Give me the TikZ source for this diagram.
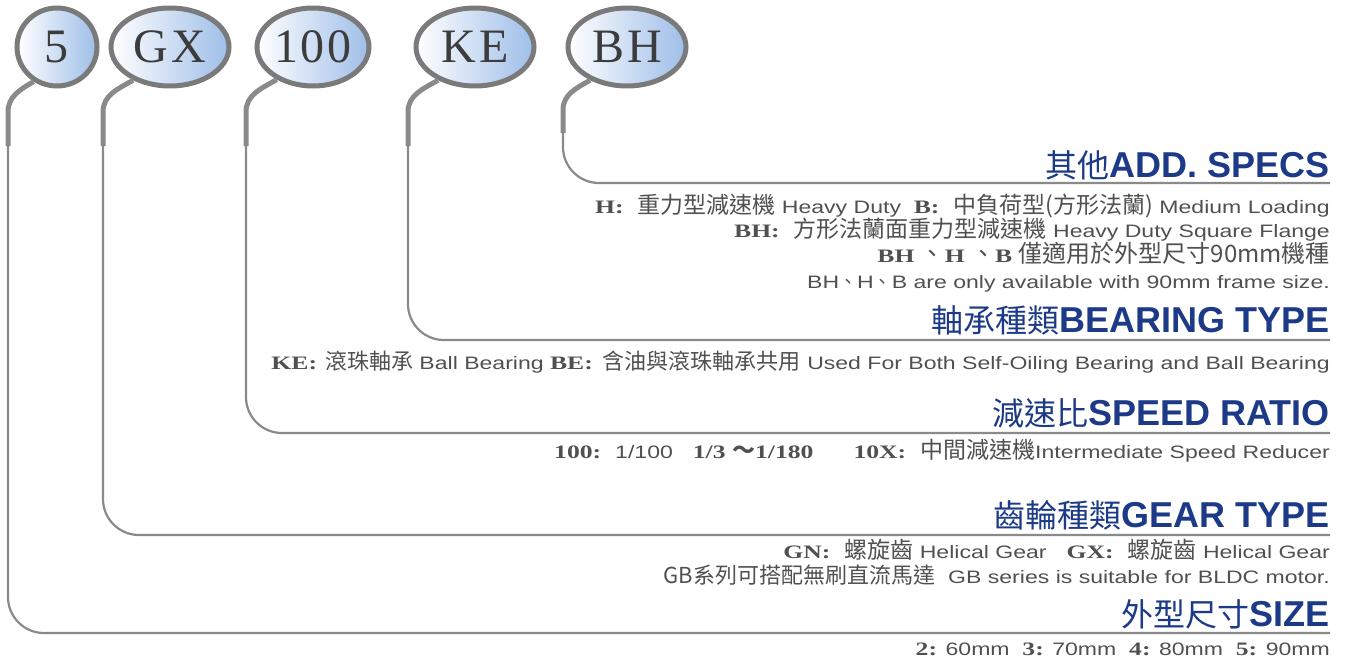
\documentclass[tikz,border=0pt]{standalone}
\usepackage{fontspec}
\setmainfont{Liberation Serif}
\newfontfamily\cjk{Noto Sans CJK TC}
\newfontfamily\nsans[FakeStretch=1.28]{Liberation Sans}
\newfontfamily\wserif[FakeStretch=1.35]{Liberation Serif}
\newfontfamily\tsans{Liberation Sans}
\newfontfamily\bubfont[LetterSpace=6]{Liberation Serif}
\usetikzlibrary{shapes.geometric}
\definecolor{linegray}{RGB}{138,138,138}
\definecolor{bordergray}{RGB}{122,122,122}
\definecolor{bblue}{RGB}{158,190,232}
\definecolor{titleblue}{RGB}{28,58,135}
\definecolor{bodygray}{RGB}{80,80,80}
\definecolor{codegray}{RGB}{60,60,60}
\newcommand\zh[1]{{\cjk\fontsize{23}{22}\selectfont #1}}
\newcommand\zhs[1]{{\cjk\fontsize{22}{22}\selectfont #1}}
\newcommand\zhb[1]{{\cjk\fontsize{24}{22}\selectfont #1}}
\newcommand\cd[1]{{\wserif\bfseries\fontsize{19}{22}\selectfont #1}}
\newcommand\cdc[1]{{\wserif\bfseries\fontsize{19}{22}\selectfont #1:}\hspace{14pt}}
\newcommand\gap{\hspace{20pt}}
\newcommand\ttl[2]{{\cjk\fontsize{32}{34}\selectfont #1}{\tsans\bfseries\fontsize{36}{38}\selectfont #2}}
\tikzset{
  bubble/.style={ellipse, draw=bordergray, line width=5pt, left color=white, right color=bblue,
    inner sep=0pt, minimum height=78pt, font=\bubfont\fontsize{48}{50}\selectfont, text=codegray},
  lead/.style={draw=linegray, line width=5pt},
  thinlead/.style={draw=linegray, line width=2.2pt, rounded corners=36pt},
  title/.style={anchor=base east, inner sep=0pt, text=titleblue},
  row/.style={anchor=base east, inner sep=0pt, text=bodygray, font=\nsans\fontsize{18}{22}\selectfont}
}
\begin{document}
\begin{tikzpicture}[x=1pt,y=-1pt]
\useasboundingbox (0,0) rectangle (1345,659);
% bubbles
\node[bubble, minimum width=80pt] (b5) at (57,47) {5};
\node[bubble, minimum width=118pt] (bGX) at (170,47) {GX};
\node[bubble, minimum width=112pt] (b100) at (313,47) {100};
\node[bubble, minimum width=118pt] (bKE) at (475,47) {KE};
\node[bubble, minimum width=118pt] (bBH) at (627,47) {BH};
% leader coordinates
\coordinate (k5) at (8,146);   \coordinate (e5) at (1330,633);
\coordinate (kGX) at (103,146); \coordinate (eGX) at (1330,535);
\coordinate (k100) at (246,146); \coordinate (e100) at (1330,433);
\coordinate (kKE) at (408,146); \coordinate (eKE) at (1330,340);
\coordinate (kBH) at (563,133); \coordinate (eBH) at (1330,183);
% leaders
\draw[lead] (b5.236) to[out=210,in=90] (8,112) -- (k5);
\draw[thinlead] (k5) |- (e5);
\draw[lead] (bGX.222) to[out=210,in=90] (103,112) -- (kGX);
\draw[thinlead] (kGX) |- (eGX);
\draw[lead] (b100.222) to[out=210,in=90] (246,112) -- (k100);
\draw[thinlead] (k100) |- (e100);
\draw[lead] (bKE.222) to[out=210,in=90] (408,112) -- (kKE);
\draw[thinlead] (kKE) |- (eKE);
\draw[lead] (bBH.222) to[out=210,in=90] (563,110) -- (kBH);
\draw[thinlead] (kBH) |- (eBH);
% ADD. SPECS
\node[title] (tAdd) at (1330,177) {\ttl{其他}{ADD. SPECS}};
\node[row] (rA1) at (1330,213) {\cdc{H}\zh{重力型減速機} Heavy Duty\ \ \cdc{B}\zh{中負荷型(方形法蘭)} Medium Loading};
\node[row] (rA2) at (1330,237) {\cdc{BH}\zh{方形法蘭面重力型減速機} Heavy Duty Square Flange};
\node[row] (rA3) at (1330,262) {\cd{BH}\ \zhb{、}\cd{H}\ \zhb{、}\cd{B}\ \zhb{僅適用於外型尺寸90mm機種}};
\node[row] (rA4) at (1330,288) {BH{\cjk\fontsize{18}{22}\selectfont 、}H{\cjk\fontsize{18}{22}\selectfont 、}B are only available with 90mm frame size.};
% BEARING TYPE
\node[title] (tBear) at (1330,332) {\ttl{軸承種類}{BEARING TYPE}};
\node[row] (rB1) at (1330,369) {\cd{KE:}\hspace{8pt}\zhs{滾珠軸承} Ball Bearing \cd{BE:}\hspace{10pt}\zhs{含油與滾珠軸承共用} Used For Both Self-Oiling Bearing and Ball Bearing};
% SPEED RATIO
\node[title] (tSpeed) at (1330,425) {\ttl{減速比}{SPEED RATIO}};
\node[row] (rS1) at (1330,458) {\cdc{100}1/100\gap\cd{1/3 \zh{～}1/180}\gap\gap\cdc{10X}\zh{中間減速機}Intermediate Speed Reducer};
% GEAR TYPE
\node[title] (tGear) at (1330,527) {\ttl{齒輪種類}{GEAR TYPE}};
\node[row] (rG1) at (1330,558) {\cdc{GN}\zh{螺旋齒} Helical Gear\gap\cdc{GX}\zh{螺旋齒} Helical Gear};
\node[row] (rG2) at (1330,583) {\zhs{GB系列可搭配無刷直流馬達}\ \ GB series is suitable for BLDC motor.};
% SIZE
\node[title] (tSize) at (1330,626) {\ttl{外型尺寸}{SIZE}};
\node[row] (rZ1) at (1330,655) {\cd{2:} 60mm\ \ \cd{3:} 70mm\ \ \cd{4:} 80mm\ \ \cd{5:} 90mm};
\end{tikzpicture}
\end{document}
